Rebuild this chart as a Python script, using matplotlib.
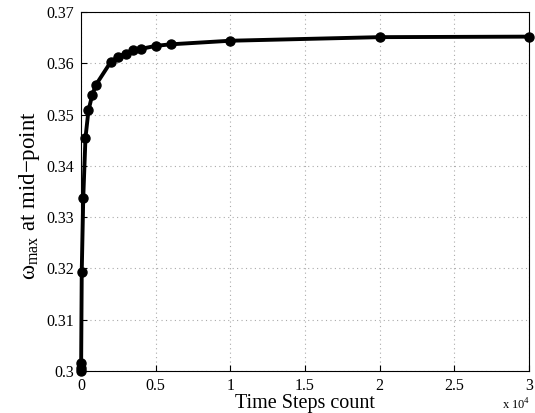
import numpy as np
import matplotlib
matplotlib.use("Agg")
import matplotlib.pyplot as plt
from matplotlib.ticker import FuncFormatter

plt.rcParams['font.family'] = ['Liberation Serif', 'DejaVu Serif']
plt.rcParams['mathtext.fontset'] = 'custom'
plt.rcParams['mathtext.rm'] = 'Liberation Serif'

steps = [1, 5, 10, 50, 150, 300, 500, 750, 1000, 2000, 2500, 3000, 3500,
         4000, 5000, 6000, 10000, 20000, 30000]
omega_max = [0.3000, 0.3006, 0.3016, 0.3194, 0.3337, 0.3455, 0.3508, 0.3538,
             0.3558, 0.3603, 0.3613, 0.3619, 0.3625, 0.3628, 0.3634, 0.3637,
             0.3644, 0.3651, 0.3652]

x_ticks = [0, 5000, 10000, 15000, 20000, 25000, 30000]
y_ticks = [0.30, 0.31, 0.32, 0.33, 0.34, 0.35, 0.36, 0.37]

fig = plt.figure(figsize=(5.35, 4.13), dpi=100)
ax = fig.add_axes([0.1514, 0.1017, 0.8374, 0.8692])

ax.plot(steps, omega_max, '-o', color='black', lw=2.8, ms=6.5, clip_on=False,
        zorder=3)

ax.set_xlim(0, 30000)
ax.set_ylim(0.30, 0.37)
ax.set_xticks(x_ticks)
ax.set_yticks(y_ticks)
ax.xaxis.set_major_formatter(FuncFormatter(lambda v, p: ('%g' % (v / 1e4))))
ax.yaxis.set_major_formatter(FuncFormatter(lambda v, p: ('%g' % round(v, 2))))
ax.tick_params(direction='in', labelsize=11.5, length=4, pad=5)
ax.grid(True, color='#aaaaaa', linestyle=(0, (1, 3)), lw=0.8)
for s in ax.spines.values():
    s.set_linewidth(0.8)

ax.set_xlabel('Time Steps count', fontsize=14.5, labelpad=0)
ax.set_ylabel(r'ω$_{\mathrm{max}}$ at mid−point', fontsize=16.5)
ax.yaxis.set_label_coords(-0.088, 0.49)
ax.text(0.94, -0.095, r'x 10$^4$', transform=ax.transAxes, fontsize=9,
        ha='left', va='center')

fig.savefig('out.png', dpi=100)
